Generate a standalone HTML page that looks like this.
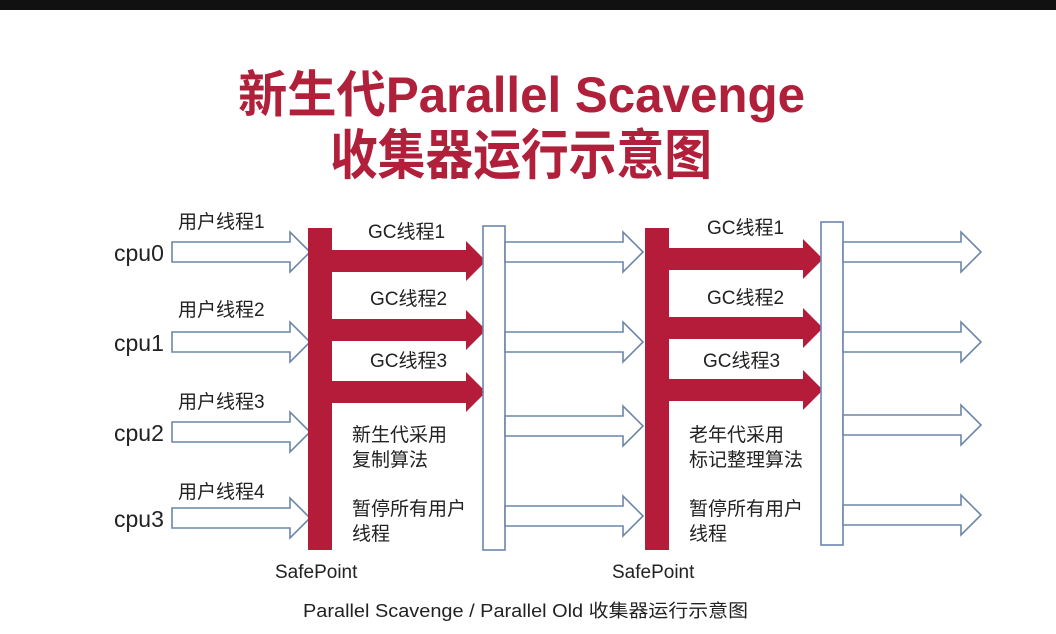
<!DOCTYPE html>
<html><head><meta charset="utf-8"><style>
html,body{margin:0;padding:0;background:#fff;}
svg{display:block}
text{font-family:"Liberation Sans","Noto Sans CJK SC",sans-serif;}
</style></head><body>
<svg width="1056" height="634" viewBox="0 0 1056 634" xmlns="http://www.w3.org/2000/svg">
<rect width="1056" height="634" fill="#fff"/>
<rect width="1056" height="10" fill="#111"/>
<g fill="#b0203a" font-weight="bold">
<text x="238" y="112" font-size="50" textLength="567" lengthAdjust="spacingAndGlyphs">新生代Parallel Scavenge</text>
<text x="330" y="174" font-size="54" textLength="382" lengthAdjust="spacingAndGlyphs">收集器运行示意图</text>
</g>
<defs>
<g id="ba"><path d="M0,-10 H118 V-20 L138,0 L118,20 V10 H0 Z" fill="#fff" stroke="#6c86ab" stroke-width="1.6"/></g>
<g id="ra"><path d="M0,-11 H135 V-20 L155,0 L135,20 V11 H0 Z" fill="#b41c3a"/></g>
</defs>
<use href="#ba" x="172" y="252"/>
<use href="#ba" x="172" y="342"/>
<use href="#ba" x="172" y="432"/>
<use href="#ba" x="172" y="518"/>
<rect x="308" y="228" width="24" height="322" fill="#b41c3a"/>
<use href="#ra" x="331" y="261"/>
<use href="#ra" x="331" y="330"/>
<use href="#ra" x="331" y="392"/>
<rect x="645" y="228" width="24" height="322" fill="#b41c3a"/>
<use href="#ra" x="668" y="259"/>
<use href="#ra" x="668" y="328"/>
<use href="#ra" x="668" y="390"/>
<rect x="483" y="226" width="22" height="324" fill="#fff" stroke="#6c86ab" stroke-width="1.6"/>
<rect x="821" y="222" width="22" height="323" fill="#fff" stroke="#6c86ab" stroke-width="1.6"/>
<use href="#ba" x="505" y="252"/>
<use href="#ba" x="505" y="342"/>
<use href="#ba" x="505" y="426"/>
<use href="#ba" x="505" y="516"/>
<use href="#ba" x="843" y="252"/>
<use href="#ba" x="843" y="342"/>
<use href="#ba" x="843" y="425"/>
<use href="#ba" x="843" y="515"/>
<g fill="#222" font-size="19">
<text x="178" y="228">用户线程1</text>
<text x="178" y="316">用户线程2</text>
<text x="178" y="408">用户线程3</text>
<text x="178" y="498">用户线程4</text>
<text x="368" y="238">GC线程1</text>
<text x="370" y="305">GC线程2</text>
<text x="370" y="367">GC线程3</text>
<text x="707" y="234">GC线程1</text>
<text x="707" y="304">GC线程2</text>
<text x="703" y="367">GC线程3</text>
<text x="352" y="441">新生代采用</text>
<text x="352" y="466">复制算法</text>
<text x="352" y="515">暂停所有用户</text>
<text x="352" y="540">线程</text>
<text x="689" y="441">老年代采用</text>
<text x="689" y="466">标记整理算法</text>
<text x="689" y="515">暂停所有用户</text>
<text x="689" y="540">线程</text>
<text x="275" y="578">SafePoint</text>
<text x="612" y="578">SafePoint</text>
<text x="303" y="617" font-size="18" textLength="445" lengthAdjust="spacingAndGlyphs">Parallel Scavenge / Parallel Old 收集器运行示意图</text>
</g>
<g fill="#222" font-size="23">
<text x="114" y="261">cpu0</text>
<text x="114" y="351">cpu1</text>
<text x="114" y="441">cpu2</text>
<text x="114" y="527">cpu3</text>
</g>
</svg>
</body></html>
